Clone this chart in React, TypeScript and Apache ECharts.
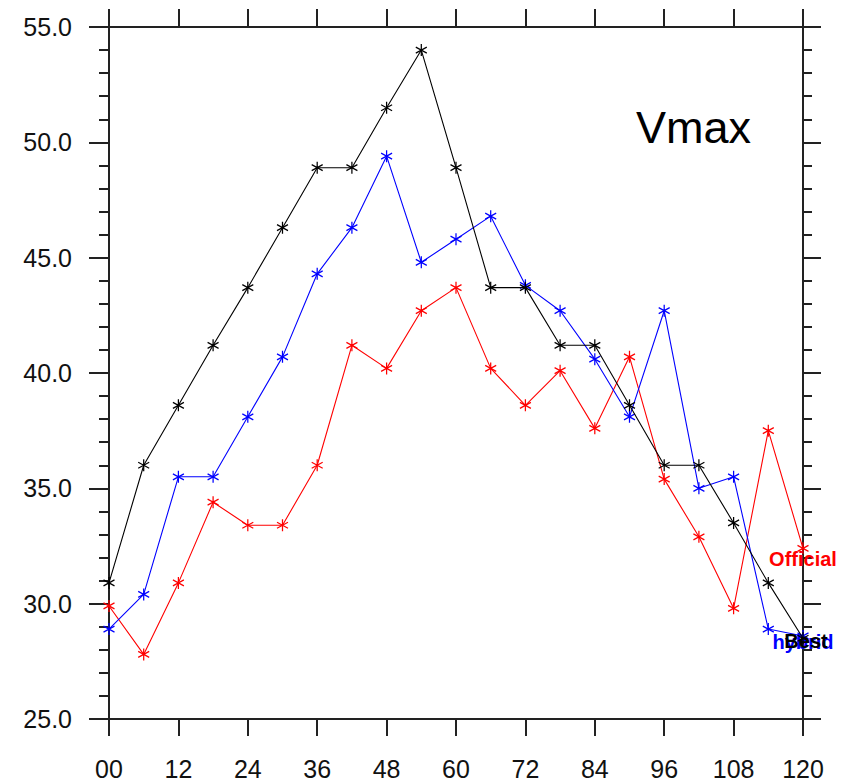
import React, { useEffect, useRef } from "react";
import * as echarts from "echarts";

const hours = [0, 6, 12, 18, 24, 30, 36, 42, 48, 54, 60, 66, 72, 78, 84, 90, 96, 102, 108, 114, 120];
const official = [29.9, 27.8, 30.9, 34.4, 33.4, 33.4, 36.0, 41.2, 40.2, 42.7, 43.7, 40.2, 38.6, 40.1, 37.6, 40.7, 35.4, 32.9, 29.8, 37.5, 32.4];
const hybrid = [28.9, 30.4, 35.5, 35.5, 38.1, 40.7, 44.3, 46.3, 49.4, 44.8, 45.8, 46.8, 43.8, 42.7, 40.6, 38.1, 42.7, 35.0, 35.5, 28.9, 28.6];
const best = [30.9, 36.0, 38.6, 41.2, 43.7, 46.3, 48.9, 48.9, 51.5, 54.0, 48.9, 43.7, 43.7, 41.2, 41.2, 38.6, 36.0, 36.0, 33.5, 30.9, 28.5];
const seriesNames = ["Official", "hybrid", "Best"];
const seriesColors = ["#ff0000", "#0000ff", "#000000"];
const labelOffsets = [[0, 11], [0, 6], [3, 3]];
const title = "Vmax";

const ASTERISK = "path://M0,-1L0,1M-0.866,-0.5L0.866,0.5M-0.866,0.5L0.866,-0.5";

export default function App() {
  const ref = useRef<HTMLDivElement>(null);
  useEffect(() => {
    if (!ref.current) return;
    const chart = echarts.init(ref.current, null, { renderer: "svg" });
    const axisColor = "#222";
    const font = "Liberation Sans";
    const allValues = [official, hybrid, best];
    const series = allValues.map((vals, si) => ({
      type: "line",
      name: seriesNames[si],
      z: 2 + si,
      data: vals.map((v, i) => {
        const item: any = { value: [hours[i], v] };
        if (i === vals.length - 1) {
          item.label = {
            show: true,
            position: "inside",
            offset: labelOffsets[si],
            formatter: seriesNames[si],
            color: seriesColors[si],
            fontFamily: font,
            fontWeight: "bold",
            fontSize: 20,
          };
        }
        return item;
      }),
      symbol: ASTERISK,
      symbolSize: [11, 12],
      itemStyle: { color: "transparent", borderColor: seriesColors[si], borderWidth: 1.3 },
      lineStyle: { color: seriesColors[si], width: 1.1 },
      label: { show: false },
      emphasis: { disabled: true },
    }));

    const yCommon = {
      type: "value",
      min: 25,
      max: 55,
      interval: 5,
      splitLine: { show: false },
      minorSplitLine: { show: false },
      axisLine: { show: true, onZero: false, lineStyle: { color: axisColor, width: 2 } },
    };
    const xCommon = {
      type: "value",
      min: 0,
      max: 120,
      interval: 12,
      splitLine: { show: false },
      axisLine: { show: true, onZero: false, lineStyle: { color: axisColor, width: 2 } },
    };

    chart.setOption({
      animation: false,
      grid: { left: 109, right: 49, top: 27, bottom: 59, containLabel: false },
      xAxis: [
        {
          ...xCommon,
          position: "bottom",
          axisTick: { show: true, inside: false, length: 17, lineStyle: { color: axisColor, width: 2 } },
          axisLabel: {
            show: true,
            margin: 37,
            fontSize: 25,
            fontFamily: font,
            color: "#111",
            formatter: (v: number) => (v === 0 ? "00" : String(v)),
          },
        },
        {
          ...xCommon,
          position: "top",
          axisTick: { show: true, inside: false, length: 18, lineStyle: { color: axisColor, width: 2 } },
          axisLabel: { show: false },
        },
      ],
      yAxis: [
        {
          ...yCommon,
          position: "left",
          axisTick: { show: true, inside: false, length: 20, lineStyle: { color: axisColor, width: 2 } },
          minorTick: { show: true, splitNumber: 5, length: 10, lineStyle: { color: axisColor, width: 2 } },
          axisLabel: {
            show: true,
            margin: 37,
            fontSize: 25,
            fontFamily: font,
            color: "#111",
            formatter: (v: number) => v.toFixed(1),
          },
        },
        {
          ...yCommon,
          position: "right",
          axisTick: { show: true, inside: false, length: 18, lineStyle: { color: axisColor, width: 2 } },
          minorTick: { show: true, splitNumber: 5, length: 9, lineStyle: { color: axisColor, width: 2 } },
          axisLabel: { show: false },
        },
      ],
      graphic: [
        {
          type: "text",
          left: 636,
          top: 105,
          style: { text: title, font: `45px "${font}"`, fill: "#000" },
          z: 10,
        },
      ],
      series,
    });
    return () => chart.dispose();
  }, []);
  return (
    <div
      ref={ref}
      style={{ position: "absolute", left: 0, top: 0, width: 852, height: 781 }}
    />
  );
}
